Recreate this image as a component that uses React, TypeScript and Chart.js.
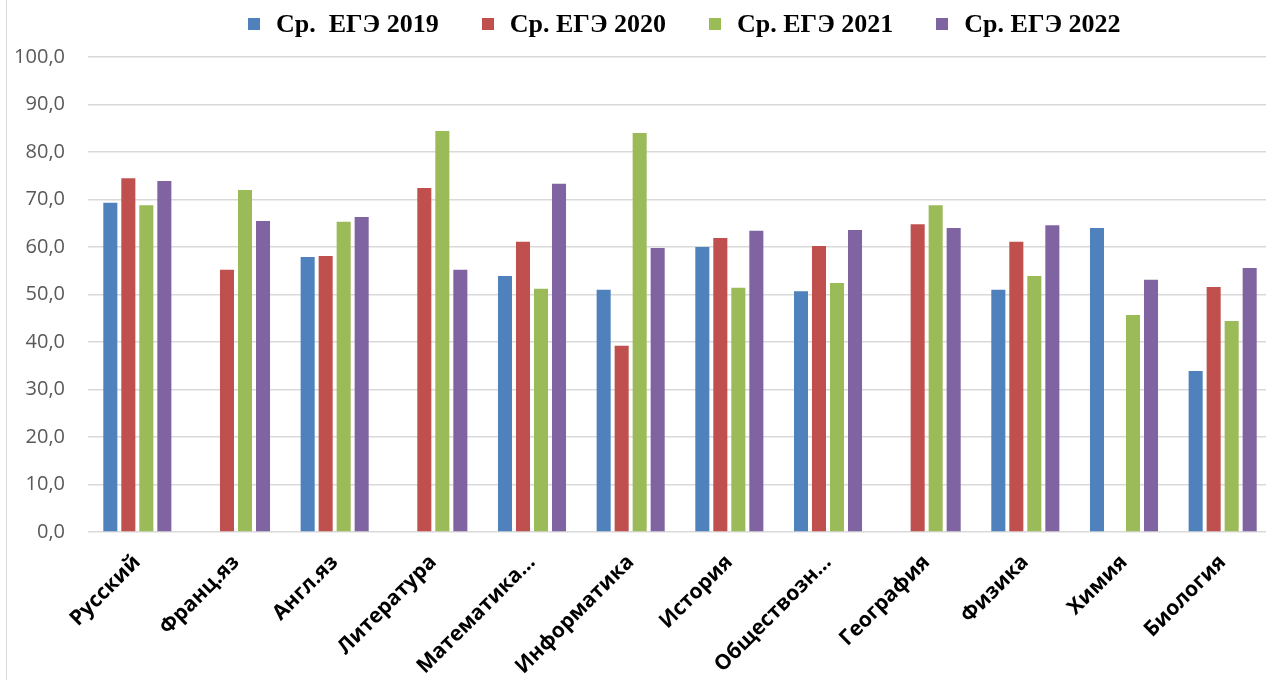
import React, { useEffect, useRef } from "react";
import { Chart, registerables } from "chart.js";

Chart.register(...registerables);

const categories = [
  "Русский",
  "Франц.яз",
  "Англ.яз",
  "Литература",
  "Математика…",
  "Информатика",
  "История",
  "Обществозн…",
  "География",
  "Физика",
  "Химия",
  "Биология",
];

const seriesLabels = ["Ср.  ЕГЭ 2019", "Ср. ЕГЭ 2020", "Ср. ЕГЭ 2021", "Ср. ЕГЭ 2022"];
const seriesColors = ["#4F81BD", "#C0504D", "#9BBB59", "#8064A2"];

const ege2019 = [69.3, null, 57.9, null, 53.9, 51.0, 60.0, 50.7, null, 51.0, 64.0, 33.9];
const ege2020 = [74.5, 55.2, 58.1, 72.4, 61.1, 39.2, 61.9, 60.2, 64.8, 61.1, null, 51.6];
const ege2021 = [68.8, 72.0, 65.3, 84.4, 51.2, 84.0, 51.4, 52.4, 68.8, 53.9, 45.7, 44.4];
const ege2022 = [73.9, 65.5, 66.3, 55.2, 73.3, 59.8, 63.4, 63.6, 64.0, 64.6, 53.1, 55.6];

const seriesValues = [ege2019, ege2020, ege2021, ege2022];

const yMin = 0;
const yMax = 100;
const yStep = 10;

export default function App() {
  const canvasRef = useRef<HTMLCanvasElement | null>(null);

  useEffect(() => {
    const canvas = canvasRef.current;
    if (!canvas) return;
    const chart = new Chart(canvas, {
      type: "bar",
      data: {
        labels: categories,
        datasets: seriesValues.map((vals, i) => ({
          label: seriesLabels[i],
          data: vals,
          backgroundColor: seriesColors[i],
          borderWidth: 0,
          categoryPercentage: 0.73,
          barPercentage: 0.78,
        })),
      },
      options: {
        responsive: false,
        animation: false,
        devicePixelRatio: 1,
        layout: { padding: { top: 57, right: 18, left: 0, bottom: 0 } },
        plugins: {
          legend: { display: false },
          tooltip: { enabled: false },
        },
        scales: {
          x: {
            grid: { display: false },
            border: { display: false },
            ticks: {
              maxRotation: 45,
              minRotation: 45,
              color: "#000000",
              padding: 10,
              font: { family: "'Open Sans'", size: 21, weight: "bold" },
            },
            afterFit: (scale: any) => {
              scale.height = 148;
            },
          },
          y: {
            min: yMin,
            max: yMax,
            grid: { color: "#d9d9d9", lineWidth: 1.5, drawTicks: false },
            border: { display: false },
            ticks: {
              stepSize: yStep,
              color: "#595959",
              padding: 23,
              font: { family: "'Open Sans'", size: 20 },
              callback: (v: any) => Number(v).toFixed(1).replace(".", ","),
            },
            afterFit: (scale: any) => {
              scale.width = 88;
            },
          },
        },
      },
    });
    return () => chart.destroy();
  }, []);

  return (
    <div
      style={{
        position: "fixed",
        left: 0,
        top: 0,
        width: 1266,
        height: 680,
        overflow: "hidden",
        background: "#ffffff",
      }}
    >
      <canvas
        ref={canvasRef}
        width={1290}
        height={680}
        style={{ position: "absolute", left: 0, top: 0, width: 1290, height: 680 }}
      />
      <div
        style={{
          position: "absolute",
          left: 6,
          top: 0,
          width: 1,
          height: 680,
          background: "#d9d9d9",
        }}
      />
      <div
        style={{
          position: "absolute",
          left: 248,
          top: 9,
          display: "flex",
          alignItems: "center",
          gap: 43,
          fontFamily: "'Liberation Serif', serif",
          fontWeight: "bold",
          fontSize: 26,
          color: "#000",
          whiteSpace: "pre",
        }}
      >
        {seriesLabels.map((lab, i) => (
          <div key={lab} style={{ display: "flex", alignItems: "center" }}>
            <span
              style={{
                display: "inline-block",
                width: 12,
                height: 12,
                background: seriesColors[i],
                marginRight: 16,
              }}
            />
            <span>{lab}</span>
          </div>
        ))}
      </div>
    </div>
  );
}
